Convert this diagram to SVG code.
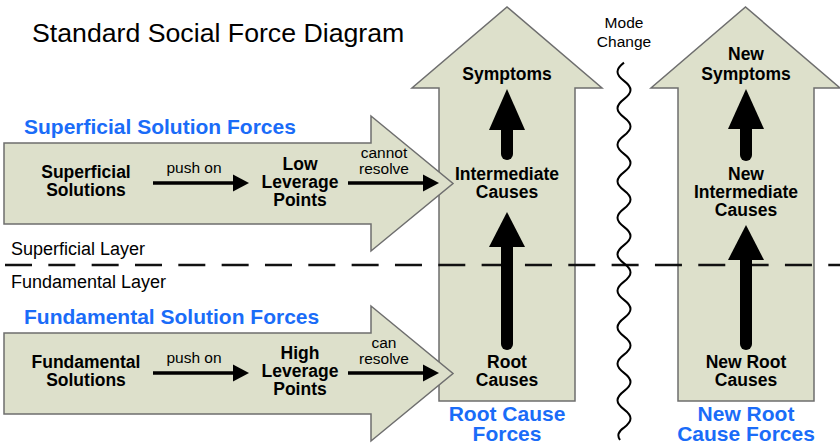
<svg xmlns="http://www.w3.org/2000/svg" width="840" height="445" viewBox="0 0 840 445">
<defs>
<style>
.force{fill:#dde0cb;stroke:#6e6e6e;stroke-width:1.5;stroke-linejoin:miter}
.t{font-family:"Liberation Sans",Arial,Helvetica,sans-serif;fill:#000}
.b{font-weight:bold;font-size:17.5px;text-anchor:middle}
.s{font-size:15.5px;text-anchor:middle}
.blue{font-family:"Liberation Sans",Arial,Helvetica,sans-serif;font-weight:bold;font-size:21px;fill:#1a6cf8}
.thin{stroke:#000;stroke-width:3.5;fill:none}
.thick{stroke:#000;stroke-width:12;stroke-linecap:round;fill:none}
.head{fill:#000;stroke:none}
</style>
</defs>
<rect width="840" height="445" fill="#fff"/>

<g id="root-cause-forces">
<path class="force" d="M439,401 V88 H412 L507,7 L602,88 H575 V401 Z"/>
</g>
<g id="new-root-cause-forces">
<path class="force" d="M678,401 V88 H651 L745.5,7 L840,88 H814 V401 Z"/>
</g>
<g id="superficial-solution-forces">
<path class="force" d="M4,143 H371 V116 L453,183.5 L371,251 V224 H4 Z"/>
</g>
<g id="fundamental-solution-forces">
<path class="force" d="M4,333 H371 V306 L453,373.5 L371,441 V414 H4 Z"/>
</g>

<g id="layer-divider">
<line x1="5" y1="265" x2="840" y2="265" stroke="#111" stroke-width="2.5" stroke-dasharray="27 16.33"/>
</g>
<g id="mode-change-line">
<path d="M624,62.6 c-8.67,6.65 -8.67,11.6 0,18.25 s8.67,11.6 0,18.25 s-8.67,11.6 0,18.25 s8.67,11.6 0,18.25 s-8.67,11.6 0,18.25 s8.67,11.6 0,18.25 s-8.67,11.6 0,18.25 s8.67,11.6 0,18.25 s-8.67,11.6 0,18.25 s8.67,11.6 0,18.25 s-8.67,11.6 0,18.25 s8.67,11.6 0,18.25 s-8.67,11.6 0,18.25 s8.67,11.6 0,18.25 s-8.67,11.6 0,18.25 s8.67,11.6 0,18.25 s-8.67,11.6 0,18.25 s8.67,11.6 0,18.25 s-8.67,11.6 0,18.25 s8.67,11.6 0,18.25 c-6,4 -7,8 -4,12.4" fill="none" stroke="#000" stroke-width="2"/>
</g>

<g id="connectors">
<line class="thin" x1="153" y1="183" x2="236" y2="183"/>
<path class="head" d="M233,174.5 L249,183 L233,191.5 Z"/>
<line class="thin" x1="348" y1="183" x2="426" y2="183"/>
<path class="head" d="M423,174.5 L439,183 L423,191.5 Z"/>
<line class="thin" x1="153" y1="373" x2="236" y2="373"/>
<path class="head" d="M233,364.5 L249,373 L233,381.5 Z"/>
<line class="thin" x1="348" y1="373" x2="426" y2="373"/>
<path class="head" d="M423,364.5 L439,373 L423,381.5 Z"/>

<line class="thick" x1="507" y1="154" x2="507" y2="125"/>
<path class="head" d="M489,130 L507,89 L525,130 Z"/>
<line class="thick" x1="507" y1="344" x2="507" y2="242"/>
<path class="head" d="M489,247 L507,212 L525,247 Z"/>
<line class="thick" x1="746" y1="155" x2="746" y2="125"/>
<path class="head" d="M728,129 L746,89 L764,129 Z"/>
<line class="thick" x1="746" y1="344" x2="746" y2="255"/>
<path class="head" d="M728,260 L746,225 L764,260 Z"/>
</g>

<g id="labels">
<text class="t" x="32" y="42" font-size="26.7">Standard Social Force Diagram</text>
<text class="blue" x="24" y="134">Superficial Solution Forces</text>
<text class="blue" x="24" y="324">Fundamental Solution Forces</text>
<text class="blue" x="507" y="421" text-anchor="middle">Root Cause</text>
<text class="blue" x="507" y="441" text-anchor="middle">Forces</text>
<text class="blue" x="746" y="421" text-anchor="middle">New Root</text>
<text class="blue" x="746" y="441" text-anchor="middle">Cause Forces</text>
<text class="t" x="11" y="255" font-size="18">Superficial Layer</text>
<text class="t" x="11" y="288" font-size="18">Fundamental Layer</text>
<text class="t s" x="624" y="28">Mode</text>
<text class="t s" x="624" y="47">Change</text>
</g>

<g id="node-superficial-solutions"><text class="t b" x="86" y="178">Superficial</text><text class="t b" x="86" y="196">Solutions</text></g>
<g id="label-push-on-1"><text class="t s" x="194" y="173">push on</text></g>
<g id="node-low-leverage"><text class="t b" x="300" y="170">Low</text><text class="t b" x="300" y="188">Leverage</text><text class="t b" x="300" y="206">Points</text></g>
<g id="label-cannot-resolve"><text class="t s" x="384" y="158">cannot</text><text class="t s" x="384" y="174">resolve</text></g>

<g id="node-fundamental-solutions"><text class="t b" x="86" y="368">Fundamental</text><text class="t b" x="86" y="386">Solutions</text></g>
<g id="label-push-on-2"><text class="t s" x="194" y="363">push on</text></g>
<g id="node-high-leverage"><text class="t b" x="300" y="359">High</text><text class="t b" x="300" y="377">Leverage</text><text class="t b" x="300" y="395">Points</text></g>
<g id="label-can-resolve"><text class="t s" x="384" y="348">can</text><text class="t s" x="384" y="364">resolve</text></g>

<g id="node-symptoms"><text class="t b" x="507" y="80">Symptoms</text></g>
<g id="node-intermediate-causes"><text class="t b" x="507" y="180">Intermediate</text><text class="t b" x="507" y="198">Causes</text></g>
<g id="node-root-causes"><text class="t b" x="507" y="368">Root</text><text class="t b" x="507" y="386">Causes</text></g>

<g id="node-new-symptoms"><text class="t b" x="746" y="60">New</text><text class="t b" x="746" y="80">Symptoms</text></g>
<g id="node-new-intermediate-causes"><text class="t b" x="746" y="180">New</text><text class="t b" x="746" y="198">Intermediate</text><text class="t b" x="746" y="216">Causes</text></g>
<g id="node-new-root-causes"><text class="t b" x="746" y="368">New Root</text><text class="t b" x="746" y="386">Causes</text></g>
</svg>
